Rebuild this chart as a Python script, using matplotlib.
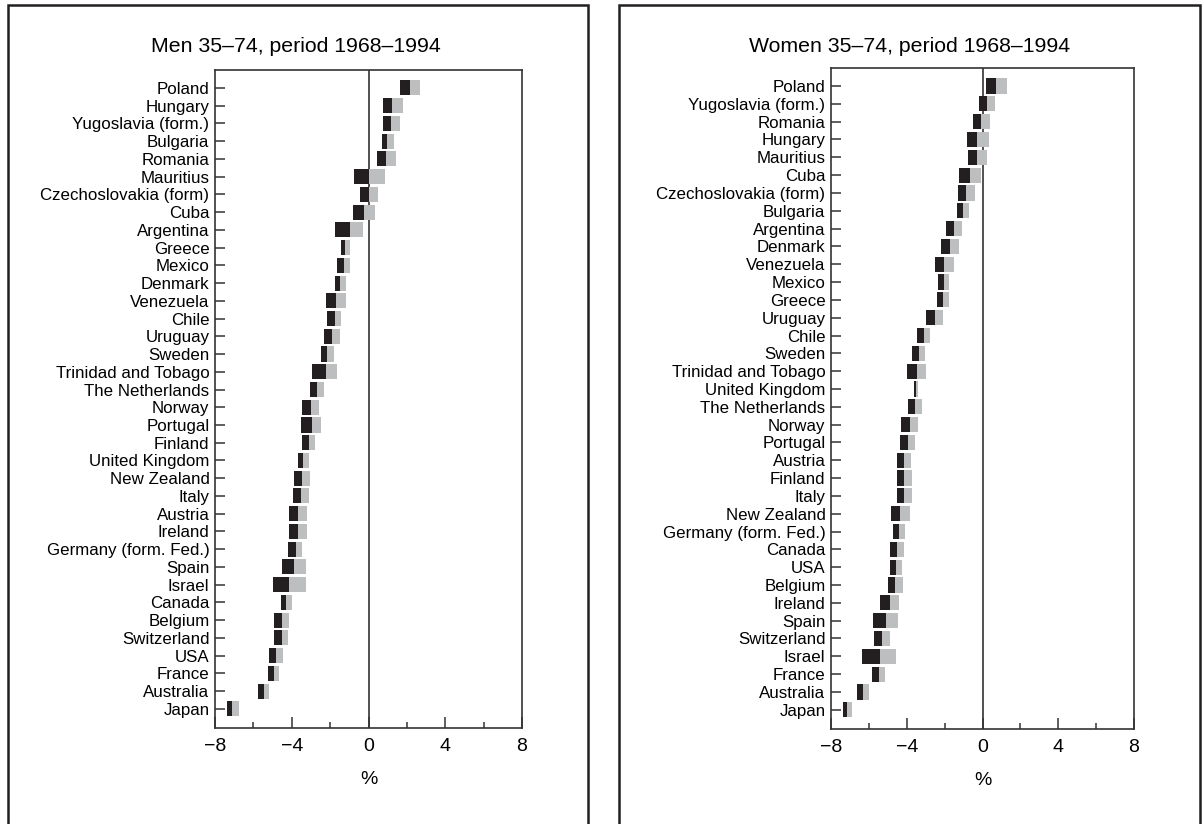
#!/usr/bin/env python3
"""
Annual change in mortality, men and women 35-74, 1968-1994.
Two panels of interval bars (black: lower limit to estimate, grey: estimate to upper limit).
"""

import matplotlib
matplotlib.use('Agg')
import matplotlib.pyplot as plt
from matplotlib.patches import Rectangle
from matplotlib.ticker import MultipleLocator

plt.rcParams['font.family'] = ['Liberation Sans', 'DejaVu Sans']

BLACK = '#231f20'
GREY = '#bcbec0'
EDGE = '#333333'

# Men 35-74 (low, estimate, high), top to bottom
men_countries = ['Poland', 'Hungary', 'Yugoslavia (form.)', 'Bulgaria', 'Romania',
                 'Mauritius', 'Czechoslovakia (form)', 'Cuba', 'Argentina', 'Greece',
                 'Mexico', 'Denmark', 'Venezuela', 'Chile', 'Uruguay', 'Sweden',
                 'Trinidad and Tobago', 'The Netherlands', 'Norway', 'Portugal',
                 'Finland', 'United Kingdom', 'New Zealand', 'Italy', 'Austria',
                 'Ireland', 'Germany (form. Fed.)', 'Spain', 'Israel', 'Canada',
                 'Belgium', 'Switzerland', 'USA', 'France', 'Australia', 'Japan']
men_low = [1.62, 0.73, 0.73, 0.68, 0.42, -0.78, -0.42, -0.83, -1.77, -1.41,
           -1.62, -1.77, -2.24, -2.14, -2.34, -2.50, -2.97, -3.07, -3.44, -3.54,
           -3.44, -3.65, -3.86, -3.91, -4.12, -4.12, -4.17, -4.53, -5.00, -4.58,
           -4.90, -4.95, -5.21, -5.26, -5.78, -7.40]
men_mid = [2.14, 1.25, 1.15, 0.99, 0.89, 0.00, 0.00, -0.21, -0.99, -1.20,
           -1.30, -1.46, -1.67, -1.72, -1.88, -2.14, -2.24, -2.71, -3.02, -2.97,
           -3.12, -3.39, -3.49, -3.54, -3.65, -3.65, -3.80, -3.86, -4.12, -4.32,
           -4.53, -4.53, -4.84, -4.95, -5.47, -7.09]
men_high = [2.66, 1.81, 1.62, 1.35, 1.41, 0.84, 0.47, 0.36, -0.31, -0.94,
            -0.99, -1.15, -1.15, -1.41, -1.46, -1.82, -1.62, -2.34, -2.60, -2.50,
            -2.81, -3.12, -3.07, -3.12, -3.18, -3.18, -3.44, -3.28, -3.28, -4.01,
            -4.12, -4.17, -4.43, -4.64, -5.16, -6.77]

# Women 35-74
women_countries = ['Poland', 'Yugoslavia (form.)', 'Romania', 'Hungary', 'Mauritius',
                   'Cuba', 'Czechoslovakia (form)', 'Bulgaria', 'Argentina', 'Denmark',
                   'Venezuela', 'Mexico', 'Greece', 'Uruguay', 'Chile', 'Sweden',
                   'Trinidad and Tobago', 'United Kingdom', 'The Netherlands', 'Norway',
                   'Portugal', 'Austria', 'Finland', 'Italy', 'New Zealand',
                   'Germany (form. Fed.)', 'Canada', 'USA', 'Belgium', 'Ireland',
                   'Spain', 'Switzerland', 'Israel', 'France', 'Australia', 'Japan']
women_low = [0.17, -0.19, -0.50, -0.82, -0.77, -1.24, -1.29, -1.35, -1.93, -2.19,
             -2.50, -2.35, -2.40, -2.98, -3.45, -3.71, -3.98, -3.61, -3.93, -4.30,
             -4.35, -4.51, -4.51, -4.51, -4.82, -4.72, -4.87, -4.87, -4.98, -5.40,
             -5.77, -5.72, -6.35, -5.82, -6.61, -7.35]
women_mid = [0.70, 0.23, -0.09, -0.30, -0.30, -0.66, -0.87, -1.03, -1.51, -1.72,
             -2.03, -2.03, -2.09, -2.50, -3.08, -3.35, -3.45, -3.50, -3.56, -3.82,
             -3.93, -4.14, -4.14, -4.14, -4.35, -4.40, -4.51, -4.56, -4.61, -4.87,
             -5.08, -5.29, -5.40, -5.45, -6.30, -7.14]
women_high = [1.28, 0.65, 0.38, 0.33, 0.23, -0.09, -0.40, -0.72, -1.09, -1.24,
              -1.51, -1.77, -1.77, -2.09, -2.77, -3.03, -2.98, -3.40, -3.20, -3.40,
              -3.56, -3.77, -3.72, -3.72, -3.82, -4.09, -4.14, -4.24, -4.19, -4.40,
              -4.45, -4.87, -4.56, -5.14, -5.98, -6.88]

W, H = 1204, 824


def draw_panel(ax, countries, low, mid, high):
    y = list(range(len(countries)))
    ax.barh(y, [m - l for l, m in zip(low, mid)], left=low, height=0.85,
            color=BLACK, linewidth=0)
    ax.barh(y, [h - m for m, h in zip(mid, high)], left=mid, height=0.85,
            color=GREY, linewidth=0)
    ax.axvline(0, color=EDGE, linewidth=1.2, zorder=0)

    ax.set_xlim(-8, 8)
    ax.set_ylim(len(countries) + 0.08, -1.01)
    ax.set_yticks(y)
    ax.set_yticklabels(countries, fontsize=12.2)
    ax.xaxis.set_major_locator(MultipleLocator(4))
    ax.xaxis.set_minor_locator(MultipleLocator(2))
    ax.tick_params(axis='y', direction='in', length=7, width=1.1, color=EDGE, pad=4)
    ax.tick_params(axis='x', which='major', direction='in', length=8, width=1.1,
                   color=EDGE, labelsize=14, pad=7)
    ax.tick_params(axis='x', which='minor', direction='in', length=4.5, width=1.1,
                   color=EDGE)
    ax.set_xlabel('%', fontsize=14, labelpad=12)
    for s in ax.spines.values():
        s.set_color(EDGE)
        s.set_linewidth(1.2)


fig = plt.figure(figsize=(W / 100, H / 100), dpi=100)

ax1 = fig.add_axes([215 / W, 1 - 728 / H, 307 / W, 658 / H])
draw_panel(ax1, men_countries, men_low, men_mid, men_high)
ax2 = fig.add_axes([831 / W, 1 - 729 / H, 303 / W, 661 / H])
draw_panel(ax2, women_countries, women_low, women_mid, women_high)

# panel frames (bottom edge runs off the page)
for x0, x1 in [(8, 588), (619, 1200)]:
    fig.add_artist(Rectangle((x0 / W, -0.2), (x1 - x0) / W, 1.2 - 5 / H,
                             transform=fig.transFigure, fill=False,
                             edgecolor=BLACK, linewidth=1.8))

fig.text(296 / W, 1 - 47 / H, 'Men 35–74, period 1968–1994', fontsize=15.3,
         ha='center', va='center')
fig.text(910 / W, 1 - 47 / H, 'Women 35–74, period 1968–1994', fontsize=15.3,
         ha='center', va='center')

fig.savefig('out.png', dpi=100)
